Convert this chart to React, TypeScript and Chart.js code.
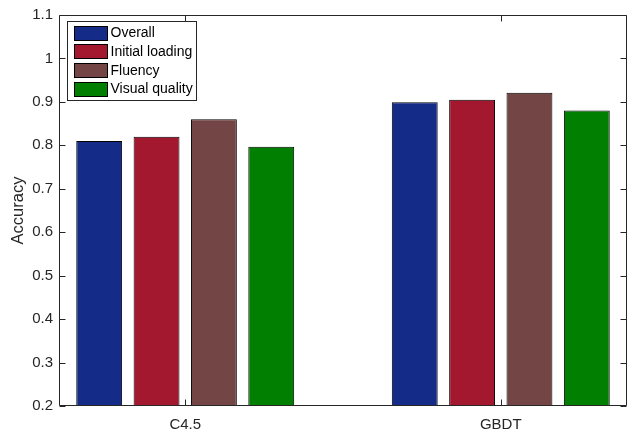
import React, { useEffect, useRef } from 'react';
import { Chart, registerables } from 'chart.js';

Chart.register(...registerables);

const categories = ['C4.5', 'GBDT'];
const seriesNames = ['Overall', 'Initial loading', 'Fluency', 'Visual quality'];
const overall = [0.81, 0.899];
const initialLoading = [0.82, 0.905];
const fluency = [0.86, 0.921];
const visualQuality = [0.797, 0.88];
const seriesColors = ['#142b87', '#a3172f', '#744545', '#007f00'];
const yTicks = [0.2, 0.3, 0.4, 0.5, 0.6, 0.7, 0.8, 0.9, 1.0, 1.1];
const yTitle = 'Accuracy';

const FONT = "'Liberation Sans', Arial, Helvetica, sans-serif";
const AXIS_COLOR = '#262626';

const frameAndLegend = {
  id: 'frameAndLegend',
  afterDraw(chart: any) {
    const ctx = chart.ctx;
    const { left, right, top, bottom } = chart.chartArea;
    const L = Math.round(left) + 0.5;
    const R = Math.round(right) - 0.5;
    const T = Math.round(top) + 0.5;
    const B = Math.round(bottom) - 0.5;
    ctx.save();
    ctx.strokeStyle = AXIS_COLOR;
    ctx.lineWidth = 1;
    ctx.beginPath();
    ctx.rect(L, T, R - L, B - T);
    ctx.stroke();
    const tl = 6;
    const ys = chart.scales.y;
    ys.ticks.forEach((t: any) => {
      const py = Math.round(ys.getPixelForValue(t.value)) + 0.5;
      ctx.beginPath();
      ctx.moveTo(L, py);
      ctx.lineTo(L + tl, py);
      ctx.moveTo(R, py);
      ctx.lineTo(R - tl, py);
      ctx.stroke();
    });
    const xs = chart.scales.x;
    xs.ticks.forEach((t: any) => {
      const px = Math.round(xs.getPixelForValue(t.value)) + 0.5;
      ctx.beginPath();
      ctx.moveTo(px, B);
      ctx.lineTo(px, B - tl);
      ctx.moveTo(px, T);
      ctx.lineTo(px, T + tl);
      ctx.stroke();
    });

    // legend
    const fontSize = 14;
    ctx.font = `${fontSize}px ${FONT}`;
    const ds = chart.data.datasets;
    let maxW = 0;
    ds.forEach((d: any) => {
      maxW = Math.max(maxW, ctx.measureText(d.label).width);
    });
    const bx = Math.round(left) + 8.5;
    const by = Math.round(top) + 6.5;
    const swX = bx + 6.5;
    const swW = 33;
    const swH = 14;
    const textX = swX + swW + 3.5;
    const rowH = 18.7;
    const bw = textX - bx + maxW + 4;
    const bh = 79;
    ctx.fillStyle = '#ffffff';
    ctx.fillRect(bx, by, bw, bh);
    ctx.strokeStyle = AXIS_COLOR;
    ctx.strokeRect(bx, by, Math.round(bw), bh);
    ds.forEach((d: any, i: number) => {
      const cy = by + 11 + rowH * i;
      const sy = Math.round(cy - swH / 2) + 0.5;
      ctx.fillStyle = d.backgroundColor;
      ctx.fillRect(Math.round(swX), sy, swW, swH);
      ctx.strokeStyle = '#000000';
      ctx.strokeRect(Math.round(swX) + 0.5, sy, swW, swH);
      ctx.fillStyle = '#000000';
      ctx.textAlign = 'left';
      ctx.textBaseline = 'middle';
      ctx.fillText(d.label, textX, cy + 1);
    });
    ctx.restore();
  },
};

export default function App() {
  const canvasRef = useRef<HTMLCanvasElement | null>(null);

  useEffect(() => {
    if (!canvasRef.current) return;
    const seriesValues = [overall, initialLoading, fluency, visualQuality];
    const chart = new Chart(canvasRef.current, {
      type: 'bar',
      data: {
        datasets: seriesNames.map((name, i) => ({
          label: name,
          data: categories.map((_, j) => ({ x: j + 1, y: seriesValues[i][j] })),
          backgroundColor: seriesColors[i],
          borderColor: '#000000',
          borderWidth: 1,
          borderSkipped: 'start',
          categoryPercentage: 0.727,
          barPercentage: 0.8,
        })),
      },
      options: {
        responsive: false,
        animation: false,
        events: [],
        layout: { padding: { left: 0, right: 5, top: 12, bottom: 0 } },
        plugins: {
          legend: { display: false },
          tooltip: { enabled: false },
        },
        scales: {
          x: {
            type: 'linear',
            min: 0.6,
            max: 2.4,
            offset: false,
            grid: { display: false, drawTicks: false, offset: false },
            border: { display: false },
            afterBuildTicks: (scale: any) => {
              scale.ticks = categories.map((_, j) => ({ value: j + 1 }));
            },
            afterFit: (scale: any) => {
              scale.height = 27;
            },
            ticks: {
              autoSkip: false,
              maxRotation: 0,
              padding: 10,
              color: AXIS_COLOR,
              font: { family: FONT, size: 15 },
              callback: (v: any) => categories[Math.round(Number(v)) - 1] ?? '',
            },
          },
          y: {
            type: 'linear',
            min: 0.2,
            max: 1.1,
            grid: { display: false, drawTicks: false },
            border: { display: false },
            afterBuildTicks: (scale: any) => {
              scale.ticks = yTicks.map((v) => ({ value: v }));
            },
            afterFit: (scale: any) => {
              scale.width = 59;
            },
            ticks: {
              autoSkip: false,
              padding: 6,
              color: AXIS_COLOR,
              font: { family: FONT, size: 15 },
              callback: (v: any) => String(Number(Number(v).toFixed(1))),
            },
            title: {
              display: true,
              text: yTitle,
              color: AXIS_COLOR,
              font: { family: FONT, size: 16.5 },
              padding: { top: 9, bottom: 0 },
            },
          },
        },
      },
      plugins: [frameAndLegend],
    });
    return () => chart.destroy();
  }, []);

  return (
    <div style={{ position: 'absolute', left: 0, top: 0, width: 632, height: 433, background: '#fff' }}>
      <canvas ref={canvasRef} width={632} height={433} style={{ display: 'block' }} />
    </div>
  );
}
